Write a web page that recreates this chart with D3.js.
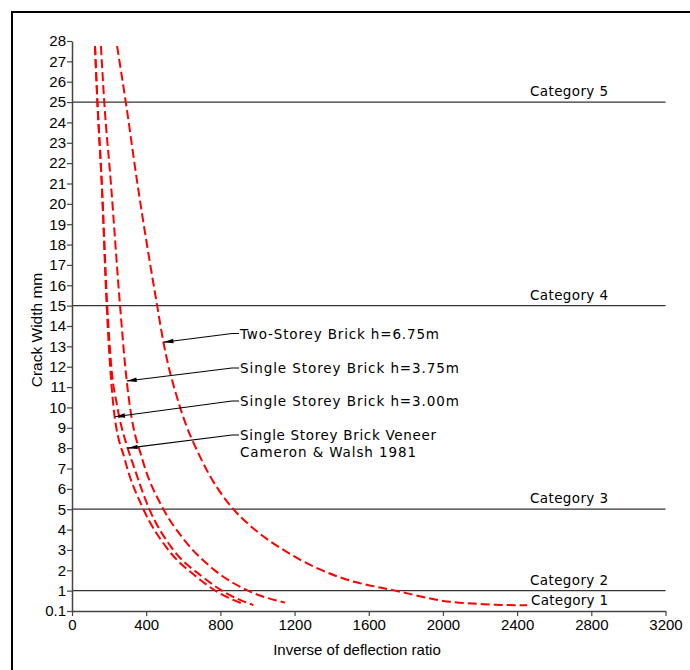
<!DOCTYPE html>
<html>
<head>
<meta charset="utf-8">
<script src="https://cdn.jsdelivr.net/npm/d3@7"></script>
<style>
  body { margin: 0; background: #fff; }
  svg { display: block; }
  .tick text { font-family: "Liberation Sans", Arial, sans-serif; font-size: 15px; fill: #000; }
  .cad { font-family: "DejaVu Sans", sans-serif; font-size: 13.5px; fill: #000; }
</style>
</head>
<body>
<svg id="chart" width="690" height="670"></svg>
<script>
// axis ticks
const yTicks = [0.1, 1, 2, 3, 4, 5, 6, 7, 8, 9, 10, 11, 12, 13, 14, 15, 16, 17, 18, 19, 20, 21, 22, 23, 24, 25, 26, 27, 28];
const xTicks = [0, 400, 800, 1200, 1600, 2000, 2400, 2800, 3200];

// category boundaries and the labels sitting above them
const categoryLines = [1, 5, 15, 25];
const categoryNames = ["Category 2", "Category 3", "Category 4", "Category 5"];
const lowestCategory = "Category 1";

// curves: [inverse deflection ratio, crack width mm]
const singleBrick300 = [[124, 27.75], [137, 25], [160, 21.1], [187, 15], [224, 10], [286, 7.4], [385, 5], [511, 3.1], [675, 1.65], [781, 0.96], [923, 0.41]];
const singleVeneer = [[124, 27.75], [137, 25], [160, 21.1], [190, 15], [212, 12], [245, 10], [300, 8], [322, 7.4], [417, 5], [538, 3.1], [708, 1.65], [816, 0.96], [978, 0.36]];
const singleBrick375 = [[156, 27.75], [174, 25], [209, 21.1], [259, 15], [295, 11.3], [313, 10], [381, 7.4], [493, 5], [601, 3.54], [775, 1.96], [960, 0.96], [1149, 0.47]];
const twoStorey675 = [[243, 27.75], [290, 25], [351, 21.1], [459, 15], [493, 13.2], [583, 10], [700, 7.4], [870, 5], [960, 4.2], [1176, 2.8], [1446, 1.65], [1743, 1], [2040, 0.505], [2220, 0.4], [2454, 0.35]];

// annotations: label lines and the point on the curve the arrow touches
const annoLabels = [
  ["Two-Storey Brick h=6.75m"],
  ["Single Storey Brick h=3.75m"],
  ["Single Storey Brick h=3.00m"],
  ["Single Storey Brick Veneer", "Cameron & Walsh 1981"]
];
const annoTips = [[493, 13.2], [295, 11.3], [232, 9.54], [300, 8.0]];

const svg = d3.select("#chart");

const x = d3.scaleLinear().domain([0, 3200]).range([72, 665.5]);
// the 0.1 tick sits one step below 1, so the scale is piecewise
const step = 570 / 28;
const y = d3.scaleLinear().domain([0.1, 1, 28]).range([611, 611 - step, 41]);

// outer frame (left and top edges show)
svg.append("path")
  .attr("d", "M12,672V12H692")
  .attr("fill", "none")
  .attr("stroke", "#000")
  .attr("stroke-width", 2);

// category lines
svg.append("g")
  .selectAll("line")
  .data(categoryLines)
  .join("line")
  .attr("x1", x(0))
  .attr("x2", x(3200))
  .attr("y1", (d) => y(d))
  .attr("y2", (d) => y(d))
  .attr("stroke", "#333")
  .attr("stroke-width", 1.2);

svg.append("g")
  .selectAll("text")
  .data(categoryNames)
  .join("text")
  .attr("class", "cad")
  .attr("x", 530)
  .attr("y", (d, i) => y(categoryLines[i]) - 6)
  .attr("textLength", 78)
  .attr("lengthAdjust", "spacing")
  .text((d) => d);

svg.append("text")
  .attr("class", "cad")
  .attr("x", 531)
  .attr("y", y(1) + 14)
  .attr("textLength", 77)
  .attr("lengthAdjust", "spacing")
  .text(lowestCategory);

// axes
const yAxis = svg.append("g")
  .attr("transform", `translate(${x(0)},0)`)
  .call(d3.axisLeft(y).tickValues(yTicks).tickSize(5).tickSizeOuter(0).tickPadding(1).tickFormat((d) => String(d)));
const xAxis = svg.append("g")
  .attr("transform", `translate(0,${y(0.1)})`)
  .call(d3.axisBottom(x).tickValues(xTicks).tickSize(5).tickSizeOuter(0).tickPadding(3).tickFormat((d) => String(d)));
[yAxis, xAxis].forEach((g) => {
  g.select(".domain").attr("stroke", "#444").attr("stroke-width", 1.5);
  g.selectAll(".tick line").attr("stroke", "#444").attr("stroke-width", 1.2);
});

// axis titles
svg.append("text")
  .attr("transform", "translate(42,330) rotate(-90)")
  .attr("text-anchor", "middle")
  .attr("font-family", "Liberation Sans, Arial, sans-serif")
  .attr("font-size", 15.5)
  .text("Crack Width mm");
svg.append("text")
  .attr("x", 357)
  .attr("y", 655)
  .attr("text-anchor", "middle")
  .attr("font-family", "Liberation Sans, Arial, sans-serif")
  .attr("font-size", 15)
  .text("Inverse of deflection ratio");

// curves
const line = d3.line()
  .x((d) => x(d[0]))
  .y((d) => y(d[1]))
  .curve(d3.curveMonotoneX);

svg.append("g")
  .selectAll("path")
  .data([singleBrick300, singleVeneer, singleBrick375, twoStorey675])
  .join("path")
  .attr("d", line)
  .attr("fill", "none")
  .attr("stroke", "#ff0000")
  .attr("stroke-width", 2)
  .attr("stroke-dasharray", "9,4");

// annotations
const labelX = 240;
const labelY = [333.5, 368, 401, 435];
const labelW = [[199], [219], [219], [196, 176]];

annoLabels.forEach((lines, i) => {
  const ty = labelY[i];
  const tip = [x(annoTips[i][0]), y(annoTips[i][1])];
  const start = [labelX - 8, ty];
  svg.append("polyline")
    .attr("points", [[labelX - 1, ty], start, tip].map((p) => p.join(",")).join(" "))
    .attr("fill", "none")
    .attr("stroke", "#000")
    .attr("stroke-width", 1.1);

  // filled arrowhead pointing at the curve
  const ang = Math.atan2(start[1] - tip[1], start[0] - tip[0]);
  const len = 10, half = 2.2;
  const bx = tip[0] + len * Math.cos(ang), by = tip[1] + len * Math.sin(ang);
  const nx = -Math.sin(ang) * half, ny = Math.cos(ang) * half;
  svg.append("polygon")
    .attr("points", [tip, [bx + nx, by + ny], [bx - nx, by - ny]].map((p) => p.join(",")).join(" "))
    .attr("fill", "#000");

  lines.forEach((t, j) => {
    svg.append("text")
      .attr("class", "cad")
      .attr("x", labelX)
      .attr("y", ty + 5 + j * 16.7)
      .attr("textLength", labelW[i][j])
      .attr("lengthAdjust", "spacing")
      .text(t);
  });
});
</script>
</body>
</html>
